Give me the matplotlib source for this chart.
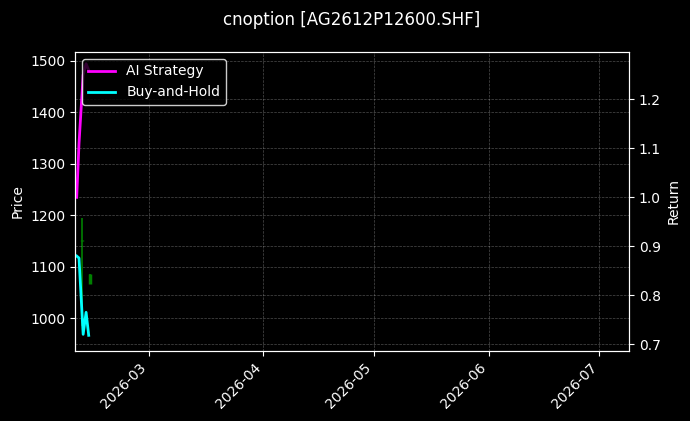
import matplotlib
matplotlib.use("Agg")
import matplotlib.pyplot as plt
import matplotlib.dates as mdates
import pandas as pd

# strategy / benchmark equity curves (return multiple)
curve_times = ["2026-02-09 11:00", "2026-02-10 02:00", "2026-02-11 05:00",
               "2026-02-12 00:00", "2026-02-12 17:00"]
ai_return = [1.0, 1.11, 1.25, 1.273, 1.26]
bh_return = [0.880, 0.876, 0.720, 0.765, 0.718]

# daily candles of the option
candle_dates = ["2026-02-11", "2026-02-13"]
c_open = [1150, 1067]
c_close = [1152, 1085]
c_high = [1195, 1086]
c_low = [985, 1066]

plt.style.use("dark_background")
fig = plt.figure(figsize=(6.9, 4.21), dpi=100)
ax = fig.add_axes([0.1087, 0.1663, 0.8029, 0.7102])

cd = pd.to_datetime(candle_dates)
for d, o, c, h, l in zip(cd, c_open, c_close, c_high, c_low):
    col = "green" if c >= o else "red"
    ax.vlines(d, l, h, color=col, linewidth=1.2)
    ax.vlines(d, min(o, c), max(o, c), color=col, linewidth=2.5)

ax.set_ylabel("Price")
ax.set_ylim(936, 1517)
ax.grid(True, linestyle="--", linewidth=0.5, alpha=0.3)

ax2 = ax.twinx()
ct = pd.to_datetime(curve_times)
ax2.plot(ct, ai_return, color="magenta", linewidth=2, label="AI Strategy")
ax2.plot(ct, bh_return, color="cyan", linewidth=2, label="Buy-and-Hold")
ax2.set_ylabel("Return")
ax2.set_ylim(0.686, 1.297)
ax2.grid(True, linestyle="--", linewidth=0.5, alpha=0.3)

ax.set_xlim(pd.Timestamp("2026-02-09"), pd.Timestamp("2026-07-09"))
ax.xaxis.set_major_locator(mdates.MonthLocator())
ax.xaxis.set_major_formatter(mdates.DateFormatter("%Y-%m"))
plt.setp(ax.get_xticklabels(), rotation=45, ha="right")

leg = ax2.legend(loc="upper left", facecolor="black", edgecolor="white")

fig.suptitle("cnoption [AG2612P12600.SHF]", x=0.51, y=0.975)
fig.savefig("out.png", dpi=100)
